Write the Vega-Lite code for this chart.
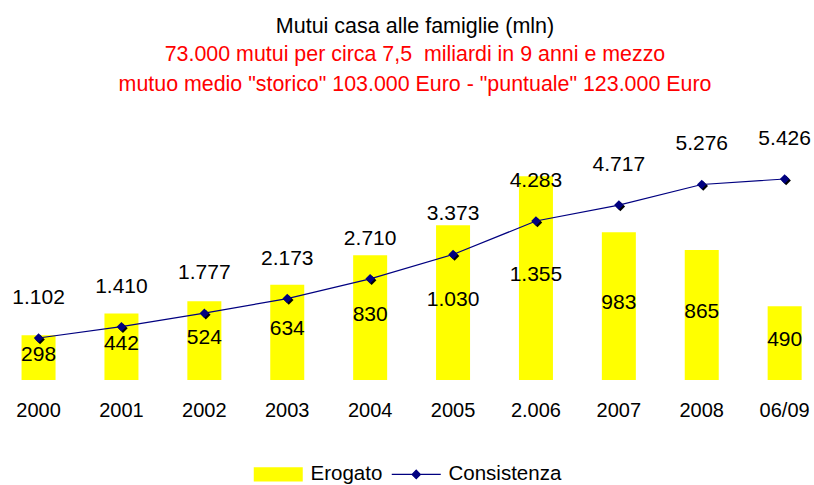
{
  "$schema": "https://vega.github.io/schema/vega-lite/v6.json",
  "width": 814,
  "height": 260,
  "autosize": {"type": "none"},
  "padding": {"left": 0, "top": 120, "right": 0, "bottom": 105},
  "config": {
    "view": {"stroke": null},
    "font": "Liberation Sans",
    "locale": {"number": {"decimal": ",", "thousands": ".", "grouping": [3], "currency": ["€", ""]}}
  },
  "title": {
    "text": "Mutui casa alle famiglie (mln)",
    "subtitle": ["73.000 mutui per circa 7,5 \u00a0miliardi in 9 anni e mezzo", "mutuo medio \"storico\" 103.000 Euro - \"puntuale\" 123.000 Euro"],
    "font": "Liberation Sans",
    "fontSize": 21.5,
    "fontWeight": "normal",
    "color": "black",
    "subtitleFont": "Liberation Sans",
    "subtitleFontSize": 21.4,
    "subtitleColor": "#FF0000",
    "subtitleLineHeight": 30,
    "subtitlePadding": 6,
    "anchor": "middle",
    "dx": 8,
    "offset": 25
  },
  "data": {
    "values": [
      {"anno": "2000", "erogato": 298, "consistenza": 1102},
      {"anno": "2001", "erogato": 442, "consistenza": 1410},
      {"anno": "2002", "erogato": 524, "consistenza": 1777},
      {"anno": "2003", "erogato": 634, "consistenza": 2173},
      {"anno": "2004", "erogato": 830, "consistenza": 2710},
      {"anno": "2005", "erogato": 1030, "consistenza": 3373},
      {"anno": "2.006", "erogato": 1355, "consistenza": 4283},
      {"anno": "2007", "erogato": 983, "consistenza": 4717},
      {"anno": "2008", "erogato": 865, "consistenza": 5276},
      {"anno": "06/09", "erogato": 490, "consistenza": 5426}
    ]
  },
  "encoding": {
    "x": {
      "field": "anno",
      "type": "nominal",
      "sort": null,
      "scale": {"range": [-2.9, 826.1], "paddingInner": 0, "paddingOuter": 0},
      "axis": {
        "title": null,
        "labelAngle": 0,
        "ticks": false,
        "domain": false,
        "grid": false,
        "labelFont": "Liberation Sans",
        "labelFontSize": 20,
        "labelColor": "black",
        "labelPadding": 20
      }
    }
  },
  "layer": [
    {
      "mark": {"type": "bar", "size": 34},
      "encoding": {
        "y": {"field": "erogato", "type": "quantitative", "scale": {"domain": [0, 1730], "nice": false}, "axis": null},
        "color": {
          "datum": "Erogato",
          "type": "nominal",
          "scale": {"domain": ["Erogato", "Consistenza"], "range": ["#FFFF00", "#000080"]},
          "legend": {
            "title": null,
            "orient": "none",
            "legendX": 268,
            "legendY": 344,
            "direction": "horizontal",
            "symbolSize": 2401,
            "labelFont": "Liberation Sans",
            "labelFontSize": 20.5,
            "labelColor": "black",
            "labelOffset": 22,
            "columnPadding": 6,
            "encode": {
              "symbols": {
                "update": {
                  "shape": {"signal": "datum.value === 'Erogato' ? 'M-1,-0.29H1V0.29H-1Z' : 'M-1,0H1M0,-0.17L0.17,0L0,0.17L-0.17,0Z'"},
                  "fill": {"signal": "datum.value === 'Erogato' ? '#FFFF00' : '#000080'"},
                  "stroke": {"signal": "datum.value === 'Erogato' ? '#FFFF00' : '#000080'"},
                  "strokeWidth": {"signal": "datum.value === 'Erogato' ? 0 : 1.2"},
                  "opacity": {"value": 1}
                }
              }
            }
          }
        }
      }
    },
    {
      "mark": {"type": "line", "strokeWidth": 1.2},
      "encoding": {
        "y": {"field": "consistenza", "type": "quantitative", "scale": {"domain": [-41, 7030], "nice": false, "zero": false}, "axis": null},
        "color": {"datum": "Consistenza", "type": "nominal"}
      }
    },
    {
      "mark": {"type": "point", "shape": "diamond", "filled": true, "size": 90, "color": "black", "opacity": 1, "xOffset": 1.5, "yOffset": 1.5},
      "encoding": {
        "y": {"field": "consistenza", "type": "quantitative", "scale": {"domain": [-41, 7030], "nice": false, "zero": false}, "axis": null}
      }
    },
    {
      "mark": {"type": "point", "shape": "diamond", "filled": true, "size": 90, "color": "#000080", "opacity": 1},
      "encoding": {
        "y": {"field": "consistenza", "type": "quantitative", "scale": {"domain": [-41, 7030], "nice": false, "zero": false}, "axis": null}
      }
    },
    {
      "mark": {"type": "text", "font": "Liberation Sans", "fontSize": 21, "color": "black", "baseline": "middle", "align": "center", "dy": -3},
      "encoding": {
        "y": {"field": "erogato", "type": "quantitative", "scale": {"domain": [0, 3460], "nice": false}, "axis": null},
        "text": {"field": "erogato", "type": "quantitative", "format": ",.0f"}
      }
    },
    {
      "mark": {"type": "text", "font": "Liberation Sans", "fontSize": 21, "color": "black", "baseline": "middle", "align": "center", "dy": -40},
      "encoding": {
        "y": {"field": "consistenza", "type": "quantitative", "scale": {"domain": [-41, 7030], "nice": false, "zero": false}, "axis": null},
        "text": {"field": "consistenza", "type": "quantitative", "format": ",.0f"}
      }
    }
  ],
  "resolve": {"scale": {"y": "independent"}}
}
